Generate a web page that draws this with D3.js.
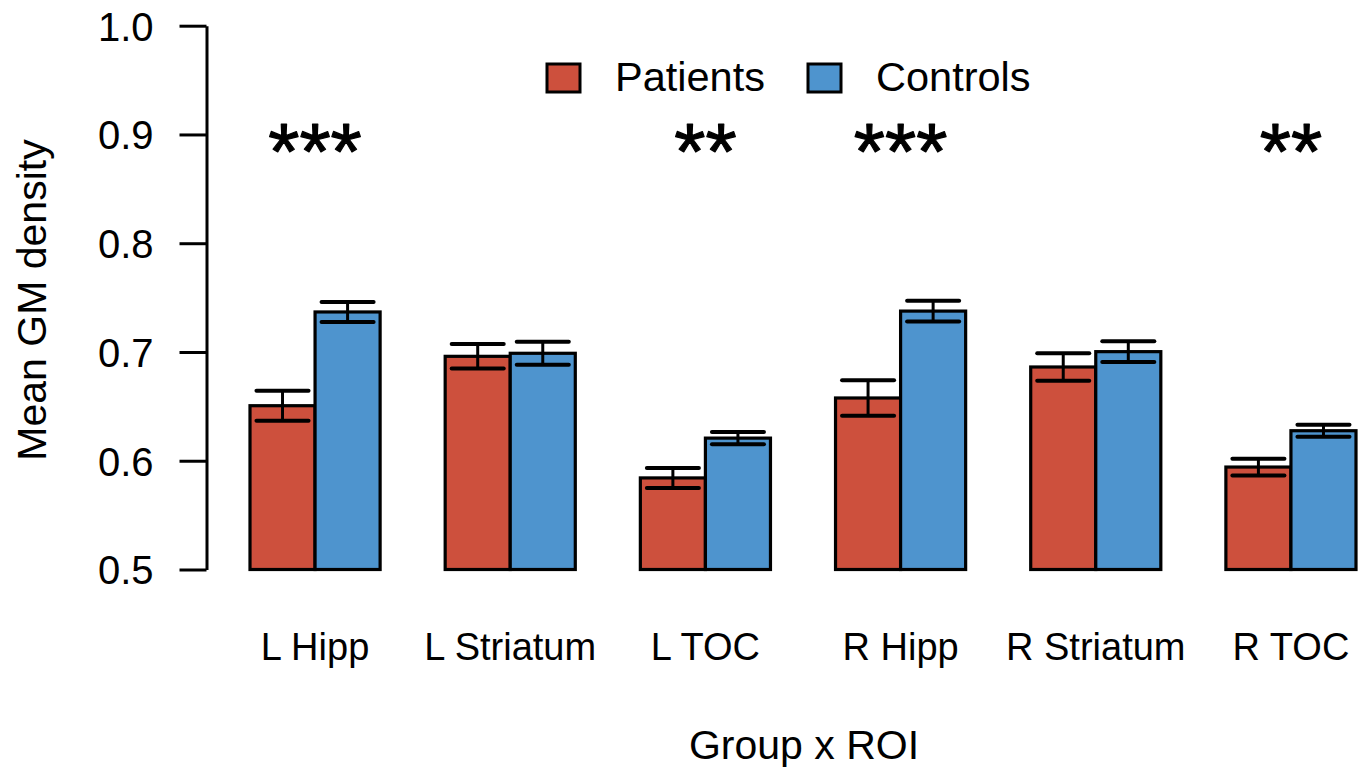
<!DOCTYPE html>
<html>
<head>
<meta charset="utf-8">
<script src="https://cdn.jsdelivr.net/npm/d3@7"></script>
<style>
  html, body { margin: 0; padding: 0; background: #fff; }
  svg { display: block; }
  text { font-family: "Liberation Sans", Arial, Helvetica, sans-serif; fill: #000; }
</style>
</head>
<body>
<svg id="chart" width="1368" height="772"></svg>
<script>
// Regions of interest and groups
const regions = ["L Hipp", "L Striatum", "L TOC", "R Hipp", "R Striatum", "R TOC"];
const groups = ["Patients", "Controls"];

// Mean grey-matter density per region
const patientMeans = [0.6506, 0.6960, 0.5842, 0.6577, 0.6862, 0.5942];
const controlMeans = [0.7368, 0.6988, 0.6208, 0.7376, 0.7003, 0.6276];

// Standard errors
const patientSE = [0.0138, 0.0113, 0.0092, 0.0163, 0.0126, 0.0077];
const controlSE = [0.0092, 0.0105, 0.0057, 0.0095, 0.0095, 0.0055];

// Significance markers per region
const stars = ["***", "", "**", "***", "", "**"];

const yTicks = [0.5, 0.6, 0.7, 0.8, 0.9, 1.0];
const colors = { Patients: "#CD503D", Controls: "#4E94CE" };

const svg = d3.select("#chart");

const y = d3.scaleLinear().domain([0.5, 1.0]).range([569.5, 25.7]);
const x0 = d3.scaleBand().domain(regions).range([250, 1356]).paddingInner(1 / 3).paddingOuter(0);
const x1 = d3.scaleBand().domain(groups).range([0, x0.bandwidth()]).padding(0);

const rows = regions.map((r, i) => ({
  region: r,
  values: [
    { group: "Patients", mean: patientMeans[i], se: patientSE[i] },
    { group: "Controls", mean: controlMeans[i], se: controlSE[i] }
  ],
  star: stars[i]
}));

// Bars
const g = svg.append("g");
const regionG = g.selectAll("g.region").data(rows).join("g")
  .attr("class", "region")
  .attr("transform", d => `translate(${x0(d.region)},0)`);

regionG.selectAll("rect").data(d => d.values).join("rect")
  .attr("x", d => x1(d.group))
  .attr("width", x1.bandwidth())
  .attr("y", d => y(d.mean))
  .attr("height", d => y(0.5) - y(d.mean))
  .attr("fill", d => colors[d.group])
  .attr("stroke", "#000")
  .attr("stroke-width", 3.2);

// Error bars
const capHalf = x1.bandwidth() * 0.4;
const eb = regionG.selectAll("g.err").data(d => d.values).join("g").attr("class", "err");
eb.append("line")
  .attr("x1", d => x1(d.group) + x1.bandwidth() / 2)
  .attr("x2", d => x1(d.group) + x1.bandwidth() / 2)
  .attr("y1", d => y(d.mean + d.se))
  .attr("y2", d => y(d.mean - d.se))
  .attr("stroke", "#000").attr("stroke-width", 3);
eb.selectAll("line.cap").data(d => [
    { c: x1(d.group) + x1.bandwidth() / 2, v: d.mean + d.se },
    { c: x1(d.group) + x1.bandwidth() / 2, v: d.mean - d.se }
  ]).join("line")
  .attr("class", "cap")
  .attr("x1", d => d.c - capHalf)
  .attr("x2", d => d.c + capHalf)
  .attr("y1", d => y(d.v))
  .attr("y2", d => y(d.v))
  .attr("stroke", "#000").attr("stroke-width", 4).attr("stroke-linecap", "round");

// Significance stars
regionG.append("text")
  .attr("x", x0.bandwidth() / 2)
  .attr("y", y(0.9) + 45)
  .attr("text-anchor", "middle")
  .style("font-size", "80px")
  .style("stroke", "#000")
  .style("stroke-width", "1.2px")
  .style("stroke-linejoin", "round")
  .text(d => d.star);

// Category labels
svg.append("g").selectAll("text").data(regions).join("text")
  .attr("x", d => x0(d) + x0.bandwidth() / 2)
  .attr("y", 660)
  .attr("text-anchor", "middle")
  .style("font-size", "38px")
  .text(d => d);

// Y axis
const yAxis = d3.axisLeft(y).tickValues(yTicks).tickFormat(d3.format(".1f"))
  .tickSize(27).tickPadding(26).tickSizeOuter(0);
const ya = svg.append("g").attr("transform", "translate(206.5,0)").call(yAxis);
ya.select(".domain").attr("stroke", "#000").attr("stroke-width", 3);
ya.selectAll(".tick line").attr("stroke", "#000").attr("stroke-width", 3);
ya.selectAll(".tick text")
  .attr("fill", "#000")
  .style("font-size", "40px")
  .style("font-family", "\"Liberation Sans\", Arial, sans-serif")
  .attr("dy", "0.36em");

// Axis titles
svg.append("text")
  .attr("transform", "translate(46,300) rotate(-90)")
  .attr("text-anchor", "middle")
  .style("font-size", "41px")
  .text("Mean GM density");

svg.append("text")
  .attr("x", 804)
  .attr("y", 759)
  .attr("text-anchor", "middle")
  .style("font-size", "41px")
  .text("Group x ROI");

// Legend
const legendX = [547, 808];
const lg = svg.append("g").selectAll("g").data(groups).join("g")
  .attr("transform", (d, i) => `translate(${legendX[i]},64)`);
lg.append("rect")
  .attr("width", 33).attr("height", 28)
  .attr("fill", d => colors[d])
  .attr("stroke", "#000").attr("stroke-width", 3);
lg.append("text")
  .attr("x", 68)
  .attr("y", 27)
  .style("font-size", "41.5px")
  .text(d => d);
</script>
</body>
</html>
